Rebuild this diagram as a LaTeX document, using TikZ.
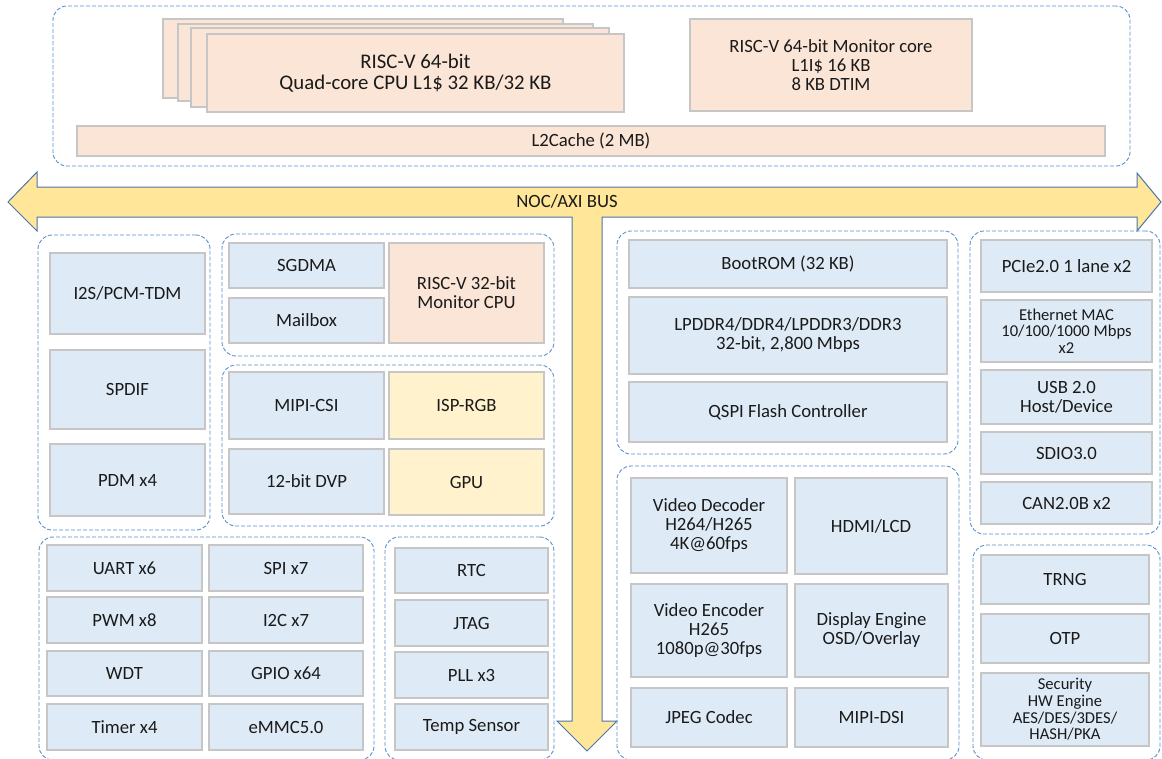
\documentclass[tikz,border=0pt]{standalone}
\usepackage{fontspec}
\setmainfont{Carlito}
\definecolor{bluefill}{HTML}{DEEBF7}
\definecolor{peach}{HTML}{FBE5D6}
\definecolor{ylw}{HTML}{FFF2CC}
\definecolor{boxline}{HTML}{C6C6C6}
\definecolor{grpline}{HTML}{5B8FCB}
\definecolor{busfill}{HTML}{FFE699}
\definecolor{busline}{HTML}{4A76A8}
\definecolor{txt}{HTML}{1A1A1A}
\newcommand\mkbox[7]{\node[#2, minimum width={#5-#3}, minimum height={#6-#4}] (#1) at ({(#3+#5)/2},{(#4+#6)/2}) {#7};}
\begin{document}
\begin{tikzpicture}[x=1pt,y=-1pt,
  box/.style={draw=boxline, line width=1.2pt, fill=bluefill, inner sep=0pt, outer sep=0pt, align=center, font=\fontsize{18.7}{19}\selectfont, text=txt},
  pbox/.style={box, fill=peach},
  ybox/.style={box, fill=ylw},
  smallbox/.style={box, font=\fontsize{16.6}{16.6}\selectfont},
  cpubox/.style={pbox, font=\fontsize{20.8}{21}\selectfont},
  grp/.style={draw=grpline, dash pattern=on 4pt off 2pt, line width=0.9pt, rounded corners=14pt, inner sep=0pt, outer sep=0pt},
  bus/.style={draw=busline, line width=1pt, fill=busfill, line join=miter}]
\useasboundingbox (0,0) rectangle (1162,758);
\fill[white] (0,0) rectangle (1162,758);

% top group
\mkbox{gtop}{grp}{53}{6}{1130}{166}{}
\mkbox{cpua}{pbox}{163}{19}{563}{98}{}
\mkbox{cpub}{pbox}{178}{24}{593}{101}{}
\mkbox{cpuc}{pbox}{191}{28}{609}{107}{}
\mkbox{cpud}{cpubox}{207}{34}{624}{112}{RISC-V 64-bit\\Quad-core CPU L1\$ 32 KB/32 KB}
\mkbox{mon}{pbox}{690}{19}{972}{111}{RISC-V 64-bit Monitor core\\L1I\$ 16 KB\\8 KB DTIM}
\mkbox{ltwo}{pbox}{77}{126}{1105}{156}{L2Cache (2 MB)}

% bus
\draw[bus] (8,202) -- (37,172) -- (37,187) -- (1137,187) -- (1137,173) -- (1161,202)
  -- (1137,231) -- (1137,217) -- (602,217) -- (602,721) -- (617,721) -- (587,751)
  -- (557,721) -- (572,721) -- (572,217) -- (37,217) -- (37,231) -- cycle;
\node[font=\fontsize{18.7}{19}\selectfont, text=txt] (buslabel) at (567,201) {NOC/AXI BUS};

% left audio group
\mkbox{ga}{grp}{38}{235}{210}{530}{}
\mkbox{itwos}{box}{50}{253}{205}{334}{I2S/PCM-TDM}
\mkbox{spdif}{box}{50}{350}{205}{429}{SPDIF}
\mkbox{pdm}{box}{50}{444}{205}{516}{PDM x4}

% SGDMA group
\mkbox{gb}{grp}{222}{234}{554}{356}{}
\mkbox{sgdma}{box}{229}{243}{384}{288}{SGDMA}
\mkbox{mailbox}{box}{229}{298}{384}{343}{Mailbox}
\mkbox{rvtwo}{pbox}{389}{243}{544}{343}{RISC-V 32-bit\\Monitor CPU}

% camera group
\mkbox{gc}{grp}{222}{365}{554}{526}{}
\mkbox{mipicsi}{box}{229}{372}{384}{439}{MIPI-CSI}
\mkbox{isp}{ybox}{389}{372}{544}{439}{ISP-RGB}
\mkbox{dvp}{box}{229}{449}{384}{514}{12-bit DVP}
\mkbox{gpu}{ybox}{389}{449}{544}{515}{GPU}

% low speed group
\mkbox{gd}{grp}{39}{537}{374}{760}{}
\mkbox{uart}{box}{47}{545}{202}{591}{UART x6}
\mkbox{spi}{box}{209}{545}{363}{591}{SPI x7}
\mkbox{pwm}{box}{47}{597}{202}{643}{PWM x8}
\mkbox{itwoc}{box}{209}{597}{363}{643}{I2C x7}
\mkbox{wdt}{box}{47}{651}{202}{696}{WDT}
\mkbox{gpio}{box}{209}{651}{363}{696}{GPIO x64}
\mkbox{timer}{box}{47}{704}{202}{750}{Timer x4}
\mkbox{emmc}{box}{209}{704}{363}{750}{eMMC5.0}

% misc group
\mkbox{ge}{grp}{385}{537}{554}{760}{}
\mkbox{rtc}{box}{395}{548}{548}{593}{RTC}
\mkbox{jtag}{box}{395}{600}{548}{646}{JTAG}
\mkbox{pll}{box}{395}{652}{548}{698}{PLL x3}
\mkbox{temp}{box}{395}{704}{548}{750}{Temp Sensor}

% memory group
\mkbox{gf}{grp}{617}{231}{958}{454}{}
\mkbox{bootrom}{box}{629}{240}{947}{288}{BootROM (32 KB)}
\mkbox{lpddr}{box}{629}{297}{947}{374}{LPDDR4/DDR4/LPDDR3/DDR3\\32-bit, 2,800 Mbps}
\mkbox{qspi}{box}{629}{382}{947}{442}{QSPI Flash Controller}

% interface group
\mkbox{gg}{grp}{970}{231}{1160}{534}{}
\mkbox{pcie}{box}{981}{240}{1152}{292}{PCIe2.0 1 lane x2}
\mkbox{eth}{smallbox}{981}{300}{1152}{362}{Ethernet MAC\\10/100/1000 Mbps\\x2}
\mkbox{usb}{box}{981}{370}{1152}{424}{USB 2.0\\Host/Device}
\mkbox{sdio}{box}{981}{432}{1152}{474}{SDIO3.0}
\mkbox{can}{box}{981}{482}{1152}{524}{CAN2.0B x2}

% video group
\mkbox{gh}{grp}{617}{466}{959}{760}{}
\mkbox{vdec}{box}{631}{478}{787}{573}{Video Decoder\\H264/H265\\4K@60fps}
\mkbox{hdmi}{box}{795}{478}{947}{574}{HDMI/LCD}
\mkbox{venc}{box}{631}{584}{787}{677}{Video Encoder\\H265\\1080p@30fps}
\mkbox{disp}{box}{795}{584}{948}{677}{Display Engine\\OSD/Overlay}
\mkbox{jpeg}{box}{631}{688}{787}{747}{JPEG Codec}
\mkbox{dsi}{box}{795}{688}{948}{747}{MIPI-DSI}

% security group
\mkbox{gi}{grp}{973}{545}{1160}{760}{}
\mkbox{trng}{box}{981}{555}{1149}{604}{TRNG}
\mkbox{otp}{box}{981}{614}{1149}{663}{OTP}
\mkbox{sec}{smallbox}{981}{673}{1149}{746}{Security\\HW Engine\\AES/DES/3DES/\\HASH/PKA}
\end{tikzpicture}
\end{document}
